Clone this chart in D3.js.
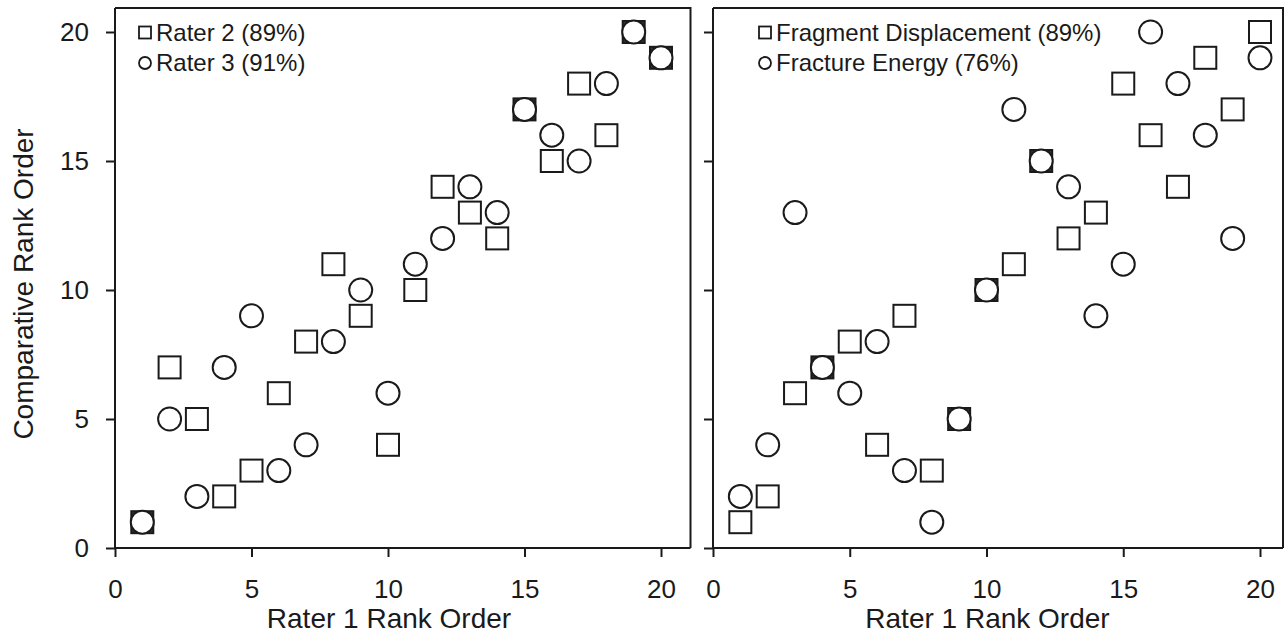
<!DOCTYPE html>
<html>
<head>
<meta charset="utf-8">
<script src="https://cdn.jsdelivr.net/npm/d3@7/dist/d3.min.js"></script>
<style>
  html, body { margin: 0; padding: 0; background: #fff; }
  svg { display: block; font-family: "Liberation Sans", Arial, Helvetica, sans-serif; }
</style>
</head>
<body>
<svg id="chart" width="1288" height="635"></svg>
<script>
// Rater 1 rank order (shared x values for every series)
const raterOneRank = [1, 2, 3, 4, 5, 6, 7, 8, 9, 10, 11, 12, 13, 14, 15, 16, 17, 18, 19, 20];

// Left panel: inter-rater agreement
const rater2 = [1, 7, 5, 2, 3, 6, 8, 11, 9, 4, 10, 14, 13, 12, 17, 15, 18, 16, 20, 19];
const rater3 = [1, 5, 2, 7, 9, 3, 4, 8, 10, 6, 11, 12, 14, 13, 17, 16, 15, 18, 20, 19];

// Right panel: rater 1 vs. measured quantities
const fragmentDisplacement = [1, 2, 6, 7, 8, 4, 9, 3, 5, 10, 11, 15, 12, 13, 18, 16, 14, 19, 17, 20];
const fractureEnergy = [2, 4, 13, 7, 6, 8, 3, 1, 5, 10, 17, 15, 14, 9, 11, 20, 18, 16, 12, 19];

const leftLegend = ["Rater 2 (89%)", "Rater 3 (91%)"];
const rightLegend = ["Fragment Displacement (89%)", "Fracture Energy (76%)"];

const tickValues = [0, 5, 10, 15, 20];
const xTitle = "Rater 1 Rank Order";
const yTitle = "Comparative Rank Order";

const svg = d3.select("#chart");
const ink = "#1a1a1a";

const frameTop = 8, frameBottom = 548;
const y = d3.scaleLinear().domain([0, 20]).range([frameBottom, 32]);

const panels = [
  { x0: 115, x20: 661, right: 690.5, squares: rater2, circles: rater3, legend: leftLegend, legendX: 145, yLabels: true },
  { x0: 713, x20: 1260, right: 1283, squares: fragmentDisplacement, circles: fractureEnergy, legend: rightLegend, legendX: 765, yLabels: false }
];

panels.forEach(p => {
  const x = d3.scaleLinear().domain([0, 20]).range([p.x0, p.x20]);
  const g = svg.append("g");

  // frame (top and right edges)
  g.append("path")
    .attr("d", `M${p.x0},${frameTop}H${p.right}V${frameBottom}`)
    .attr("fill", "none").attr("stroke", ink).attr("stroke-width", 2);

  // x axis
  const xAxis = g.append("g")
    .attr("transform", `translate(0,${frameBottom})`)
    .call(d3.axisBottom(x).tickValues(tickValues).tickSize(9).tickSizeOuter(0).tickPadding(23));
  xAxis.select(".domain").attr("d", `M${p.x0},0H${p.right}`);

  // y axis
  const yAxis = g.append("g")
    .attr("transform", `translate(${p.x0},0)`)
    .call(d3.axisLeft(y).tickValues(tickValues).tickSize(9).tickSizeOuter(0).tickPadding(17)
      .tickFormat(p.yLabels ? d3.format("d") : () => ""));
  yAxis.select(".domain").attr("d", `M0,${frameTop}V${frameBottom}`);

  [xAxis, yAxis].forEach(a => {
    a.selectAll("path, line").attr("stroke", ink).attr("stroke-width", 2);
    a.selectAll("text").attr("fill", ink).attr("font-size", 26)
      .attr("font-family", "'Liberation Sans', Arial, sans-serif");
  });

  // x axis title
  g.append("text")
    .attr("x", (p.x0 + p.x20) / 2 + 1).attr("y", 628)
    .attr("text-anchor", "middle").attr("font-size", 28).attr("fill", ink)
    .text(xTitle);

  // points: squares first, circles on top; coincident squares get a dark fill behind the circle
  const circleKeys = new Set(p.circles.map((v, i) => raterOneRank[i] + ":" + v));
  const side = 22;
  g.append("g").selectAll("rect")
    .data(p.squares.map((v, i) => ({ r: raterOneRank[i], v })))
    .join("rect")
    .attr("x", d => x(d.r) - side / 2).attr("y", d => y(d.v) - side / 2)
    .attr("width", side).attr("height", side)
    .attr("fill", d => circleKeys.has(d.r + ":" + d.v) ? "#333" : "#fff")
    .attr("stroke", ink).attr("stroke-width", 2);

  g.append("g").selectAll("circle")
    .data(p.circles.map((v, i) => ({ r: raterOneRank[i], v })))
    .join("circle")
    .attr("cx", d => x(d.r)).attr("cy", d => y(d.v)).attr("r", 11.5)
    .attr("fill", "#fff").attr("stroke", ink).attr("stroke-width", 2);

  // legend
  const lg = g.append("g");
  const rows = [32.5, 63];
  lg.append("rect").attr("x", p.legendX - 6).attr("y", rows[0] - 6).attr("width", 12).attr("height", 12)
    .attr("fill", "#fff").attr("stroke", ink).attr("stroke-width", 1.8);
  lg.append("circle").attr("cx", p.legendX).attr("cy", rows[1]).attr("r", 6)
    .attr("fill", "#fff").attr("stroke", ink).attr("stroke-width", 1.8);
  p.legend.forEach((t, i) => {
    lg.append("text").attr("x", p.legendX + 11).attr("y", rows[i]).attr("dy", "0.35em")
      .attr("font-size", 24).attr("fill", ink).text(t);
  });
});

// y axis title
svg.append("text")
  .attr("transform", `translate(33,${(frameBottom + 32) / 2 - 6}) rotate(-90)`)
  .attr("text-anchor", "middle").attr("font-size", 28).attr("fill", ink)
  .text(yTitle);
</script>
</body>
</html>
